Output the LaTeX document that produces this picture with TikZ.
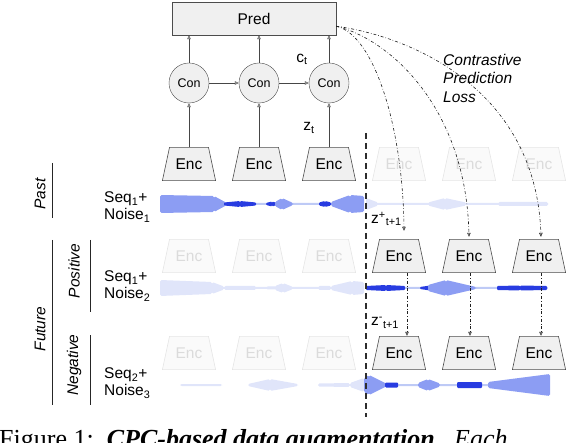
\documentclass[tikz,border=0pt]{standalone}
\usepackage{fontspec}
\setmainfont{Liberation Sans}
\newfontfamily\capserif{Liberation Serif}
\usepackage{xcolor}
\usepackage{tikz}
\usetikzlibrary{shapes, arrows.meta, positioning}
\definecolor{wavedark}{RGB}{40,60,225}
\definecolor{wavemid}{RGB}{140,157,243}
\definecolor{wavelight}{RGB}{190,202,246}
\definecolor{wavefaint}{RGB}{224,229,250}
% trapezoid outline drawn inside an encoder node
\newcommand{\encoutline}[2]{\draw[draw=#1, fill=#2, line width=0.6pt]
    ([shift={(0.4pt,0.4pt)}]path picture bounding box.south west) --
    ([shift={(7.5pt,-0.4pt)}]path picture bounding box.north west) --
    ([shift={(-7.5pt,-0.4pt)}]path picture bounding box.north east) --
    ([shift={(-0.4pt,0.4pt)}]path picture bounding box.south east) -- cycle;}
\tikzstyle{predbox} = [rectangle, draw=gray!60!black, fill=gray!12,
    minimum width=164pt, minimum height=33pt, font=\fontsize{15.5}{17}\selectfont]
\tikzstyle{con} = [circle, draw=gray!60!black, fill=gray!12, minimum size=40pt,
    inner sep=0pt, font=\fontsize{12.5}{14}\selectfont]
\tikzstyle{enc} = [rectangle, minimum width=54pt, minimum height=34pt, inner sep=0pt,
    font=\fontsize{15.5}{17}\selectfont, path picture={\encoutline{gray!60!black}{gray!12}}]
\tikzstyle{encfaded} = [rectangle, minimum width=54pt, minimum height=34pt, inner sep=0pt, text=gray!28,
    font=\fontsize{15.5}{17}\selectfont, path picture={\encoutline{gray!20}{gray!4}}]
\tikzstyle{line} = [draw, gray!55!black, line width=0.6pt, -{Triangle[open, length=4pt, width=3.5pt]}]
\tikzstyle{cpc} = [draw, gray!25!black, line width=0.6pt, dash dot, -{Triangle[open, length=4pt, width=3.5pt]}]
\tikzstyle{seqlabel} = [anchor=west, align=left, inner sep=0pt, font=\fontsize{15.5}{17}\selectfont]
\tikzstyle{side} = [rotate=90, inner sep=0pt, font=\itshape\fontsize{15.5}{17}\selectfont]
\tikzstyle{sideline} = [draw, gray!30!black, line width=0.7pt]
\tikzstyle{zlabel} = [inner sep=0pt, font=\fontsize{15.5}{17}\selectfont]
\tikzstyle{wdark} = [fill=wavedark, rounded corners=1pt]
\tikzstyle{wmid} = [fill=wavemid, rounded corners=1.5pt]
\tikzstyle{wlight} = [fill=wavelight, rounded corners=1pt]
\tikzstyle{wfaint} = [fill=wavefaint, rounded corners=1.5pt]

\begin{document}
\begin{tikzpicture}[x=1pt, y=1pt, on grid, node distance=70pt]
      \useasboundingbox (0,0) rectangle (578,442);
      % Waveforms
      \def\wy{238}
      \foreach \xa/\xb/\ha/\hb/\ws in {160/362/1/1/wlight, 160/214/9/8/wmid, 214/226/8/1.5/wmid,
          224/240/1.5/3/wdark, 240/256/3/1.5/wdark, 266/272/1/2.5/wdark, 272/277/2.5/1/wdark,
          275/282/2/6/wmid, 282/293/6/1/wmid, 319/325/1.5/3/wdark, 325/331/3/1.5/wdark,
          331/350/2/9/wmid, 350/364/9/8/wmid, 366/548/1/1/wfaint, 366/378/6/1.5/wfaint,
          428/445/1.5/6/wfaint, 445/466/6/1.5/wfaint, 498/548/2/2/wfaint}
        \path[\ws] (\xa,\wy-\ha) -- (\xb,\wy-\hb) -- (\xb,\wy+\hb) -- (\xa,\wy+\ha) -- cycle;
      \def\wy{154}
      \foreach \xa/\xb/\ha/\hb/\ws in {160/362/1/1/wfaint, 160/212/8/6/wfaint, 212/224/6/1.5/wfaint,
          224/256/2/2/wfaint, 266/277/1.5/1.5/wfaint, 275/283/2/5/wfaint, 283/293/5/1/wfaint,
          318/331/2/2/wfaint, 331/352/2/7/wfaint, 352/364/7/6/wfaint, 366/548/1/1/wlight,
          366/386/2/3/wdark, 386/405/3/2/wdark, 420/430/1/2.5/wdark,
          428/446/3/8/wmid, 446/476/8/1/wmid, 497/520/2/2.5/wdark, 520/547/2.5/2/wdark}
        \path[\ws] (\xa,\wy-\ha) -- (\xb,\wy-\hb) -- (\xb,\wy+\hb) -- (\xa,\wy+\ha) -- cycle;
      \def\wy{57}
      \foreach \xa/\xb/\ha/\hb/\ws in {180/222/1/1/wfaint, 248/270/1/6/wfaint, 270/298/6/1/wfaint,
          318/350/1.5/2/wfaint, 350/364/2/7/wfaint, 366/548/1/1/wlight,
          364/369/7/10/wmid, 369/386/10/1.5/wmid, 385/398/2.5/2.5/wdark,
          418/428/2/6/wmid, 428/440/6/1.5/wmid, 457/482/3/3/wdark, 488/550/3/11/wmid}
        \path[\ws] (\xa,\wy-\ha) -- (\xb,\wy-\hb) -- (\xb,\wy+\hb) -- (\xa,\wy+\ha) -- cycle;
      % Encoders
      \node [enc] (e1) at (189,278) {Enc};
      \node [enc, right=of e1] (e2) {Enc};
      \node [enc, right=of e2] (e3) {Enc};
      \node [encfaded, right=of e3] (f4) {Enc};
      \node [encfaded, right=of f4] (f5) {Enc};
      \node [encfaded, right=of f5] (f6) {Enc};
      \node [encfaded, below=92pt of e1] (pf1) {Enc};
      \node [encfaded, right=of pf1] (pf2) {Enc};
      \node [encfaded, right=of pf2] (pf3) {Enc};
      \node [enc, right=of pf3] (p4) {Enc};
      \node [enc, right=of p4] (p5) {Enc};
      \node [enc, right=of p5] (p6) {Enc};
      \node [encfaded, below=97pt of pf1] (nf1) {Enc};
      \node [encfaded, right=of nf1] (nf2) {Enc};
      \node [encfaded, right=of nf2] (nf3) {Enc};
      \node [enc, right=of nf3] (n4) {Enc};
      \node [enc, right=of n4] (n5) {Enc};
      \node [enc, right=of n5] (n6) {Enc};
      % Context and prediction
      \node [con, above=81pt of e1] (c1) {Con};
      \node [con, right=of c1] (c2) {Con};
      \node [con, right=of c2] (c3) {Con};
      \node [predbox] (pred) at (254,423.5) {Pred};
      % Labels
      \node [side] (past) at (40,248) {Past};
      \node [side] (future) at (40,113) {Future};
      \node [side] (positive) at (74,171) {Positive};
      \node [side] (negative) at (74,77) {Negative};
      \node [seqlabel] (seq1) at (104,235) {Seq\textsubscript{1}+\\Noise\textsubscript{1}};
      \node [seqlabel] (seq2) at (104,156) {Seq\textsubscript{1}+\\Noise\textsubscript{2}};
      \node [seqlabel] (seq3) at (104,59) {Seq\textsubscript{2}+\\Noise\textsubscript{3}};
      \node [zlabel] (zt) at (309,314) {z\textsubscript{t}};
      \node [zlabel] (ct) at (302,383) {c\textsubscript{t}};
      \node [zlabel, anchor=west] (zpos) at (371,223) {z\textsuperscript{+}\textsubscript{t+1}};
      \node [zlabel, anchor=west] (zneg) at (371,119) {z\textsuperscript{-}\textsubscript{t+1}};
      \node [anchor=west, align=left, inner sep=0pt, font=\itshape\fontsize{15.5}{18.5}\selectfont] (cpl)
          at (443,364) {Contrastive\\Prediction\\Loss};
      \node [anchor=base west, inner sep=0pt, font=\capserif\fontsize{26}{28}\selectfont] (caption)
          at (-1,-5) {Figure 1:\ \ \textbf{\textit{CPC-based data augmentation.}}\ \ \textit{Each}};
      % Side brackets and divider
      \path [sideline] (52,279) -- (52,224);
      \path [sideline] (52,202) -- (52,37);
      \path [sideline] (90,202) -- (90,130);
      \path [sideline] (90,107) -- (90,37);
      \draw [gray!35!black, line width=1.3pt, dash pattern=on 6pt off 4pt] (366,309) -- (366,25);
      % Draw edges
      \path [line] (e1) -- (c1);
      \path [line] (e2) -- (c2);
      \path [line] (e3) -- (c3);
      \path [line] (c1) -- (c2);
      \path [line] (c2) -- (c3);
      \path [line] (c1) -- (c1 |- pred.south);
      \path [line] (c2) -- (c2 |- pred.south);
      \path [line] (c3) -- (c3 |- pred.south);
      \path [cpc] ([yshift=9pt]pred.south east) .. controls (375,407) and (403,312) .. ([xshift=5pt, yshift=8pt]p4.north);
      \path [cpc] ([yshift=9pt]pred.south east) .. controls (392,402) and (466,332) .. ([yshift=2pt]p5.north);
      \path [cpc] ([yshift=9pt]pred.south east) .. controls (420,404) and (536,347) .. ([xshift=2pt, yshift=2pt]p6.north);
      \path [cpc] ([xshift=8pt]p4.south) -- ([xshift=8pt]n4.north);
      \path [cpc] ([xshift=1pt]p5.south) -- ([xshift=1pt]n5.north);
      \path [cpc] ([xshift=2pt]p6.south) -- ([xshift=2pt]n6.north);
\end{tikzpicture}
\end{document}
